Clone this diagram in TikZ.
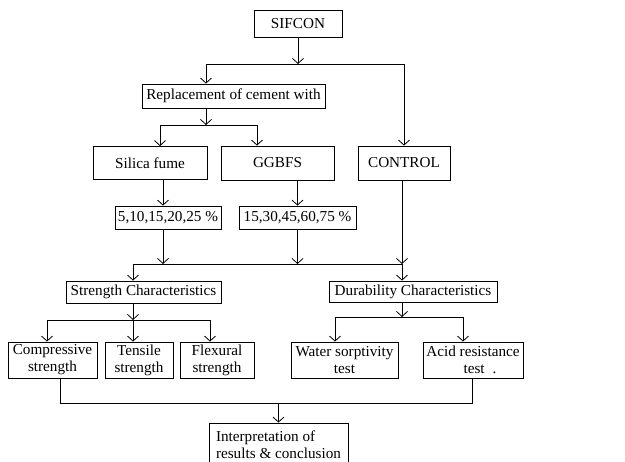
\documentclass[tikz,border=0pt]{standalone}
\usepackage{fontspec}
\setmainfont{Liberation Serif}
\usetikzlibrary{arrows.meta}
\begin{document}
\begin{tikzpicture}[x=1pt,y=-1pt,
  box/.style={draw,line width=0.8pt,inner sep=0pt,align=center,font=\fontsize{15.2}{17}\selectfont},
  arr/.style={-{Straight Barb[length=5pt,width=11pt]}},
  conn/.style={line width=0.8pt}]
\clip (0,0) rectangle (625,462);
\fill[white] (0,0) rectangle (625,462);
% nodes
\node[box,minimum width=88pt,minimum height=27pt] (sifcon) at (298,23.5) {SIFCON};
\node[box,minimum width=183pt,minimum height=24pt] (repl) at (233.5,96) {Replacement of cement with};
\node[box,minimum width=114pt,minimum height=33pt] (silica) at (150,163) {Silica fume};
\node[box,minimum width=113pt,minimum height=34pt] (ggbfs) at (277.5,163) {GGBFS};
\node[box,minimum width=92pt,minimum height=34pt] (control) at (404,163) {CONTROL};
\node[box,minimum width=106pt,minimum height=23pt] (pcta) at (168,217.5) {5,10,15,20,25 \%};
\node[box,minimum width=117pt,minimum height=23pt] (pctb) at (297.5,217.5) {15,30,45,60,75 \%};
\node[box,minimum width=155pt,minimum height=22pt] (strength) at (143.5,292) {Strength Characteristics};
\node[box,minimum width=168pt,minimum height=21pt] (durab) at (413,291.5) {Durability Characteristics};
\node[box,minimum width=89pt,minimum height=36pt] (comp) at (52.5,360) {Compressive\\strength};
\node[box,minimum width=68pt,minimum height=36pt] (tens) at (139,360) {Tensile\\strength};
\node[box,minimum width=74pt,minimum height=36pt] (flex) at (217,360) {Flexural\\strength};
\node[box,minimum width=107pt,minimum height=36pt] (water) at (344.5,360) {Water sorptivity\\test};
\node[box,minimum width=100pt,minimum height=36pt] (acid) at (473,360) {Acid resistance\\\hspace{14pt}test\hspace{8pt}.};
\node[box,align=left,minimum width=139pt,minimum height=43pt] (interp) at (278.5,444.5) {Interpretation of\\results \& conclusion};
% bus coordinates
\coordinate (b1l) at (206,64);
\coordinate (b1r) at (404,64);
\coordinate (b2l) at (160,125);
\coordinate (b2r) at (257,125);
\coordinate (xa) at (163,0);
\coordinate (b3l) at (133,264);
\coordinate (b3r) at (402,264);
\coordinate (b4l) at (47,320);
\coordinate (b4r) at (210,320);
\coordinate (b5l) at (335,317);
\coordinate (b5r) at (463,317);
\coordinate (b6l) at (60,403);
\coordinate (b6r) at (472,403);
% connectors
\draw[conn,arr] (sifcon.south) -- (sifcon.south |- b1l);
\draw[conn] (b1l) -- (b1r);
\draw[conn,arr] (b1l) -- (repl.north -| b1l);
\draw[conn,arr] (b1r) -- (control.north);
\draw[conn,arr] (repl.south -| b1l) -- (b2l -| b1l);
\draw[conn] (b2l) -- (b2r);
\draw[conn,arr] (b2l) -- (silica.north -| b2l);
\draw[conn,arr] (b2r) -- (ggbfs.north -| b2r);
\draw[conn,arr] (silica.south -| xa) -- (pcta.north -| xa);
\draw[conn,arr] (ggbfs.south -| pctb) -- (pctb.north);
\draw[conn,arr] (pcta.south -| xa) -- (b3l -| xa);
\draw[conn,arr] (pctb.south) -- (b3l -| pctb);
\draw[conn,arr] (control.south -| b3r) -- (b3r);
\draw[conn] (b3l) -- (b3r);
\draw[conn,arr] (b3l) -- (strength.north -| b3l);
\draw[conn,arr] (b3r) -- (durab.north -| b3r);
\draw[conn,arr] (strength.south -| b3l) -- (b4l -| b3l);
\draw[conn] (b4l) -- (b4r);
\draw[conn,arr] (b4l) -- (comp.north -| b4l);
\draw[conn,arr] (b4l -| b3l) -- (tens.north -| b3l);
\draw[conn,arr] (b4r) -- (flex.north -| b4r);
\draw[conn,arr] (durab.south -| b3r) -- (b5l -| b3r);
\draw[conn] (b5l) -- (b5r);
\draw[conn,arr] (b5l) -- (water.north -| b5l);
\draw[conn,arr] (b5r) -- (acid.north -| b5r);
\draw[conn] (comp.south -| b6l) -- (b6l) -- (b6r) -- (acid.south -| b6r);
\draw[conn,arr] (b6l -| interp.north) -- (interp.north);
\end{tikzpicture}
\end{document}
